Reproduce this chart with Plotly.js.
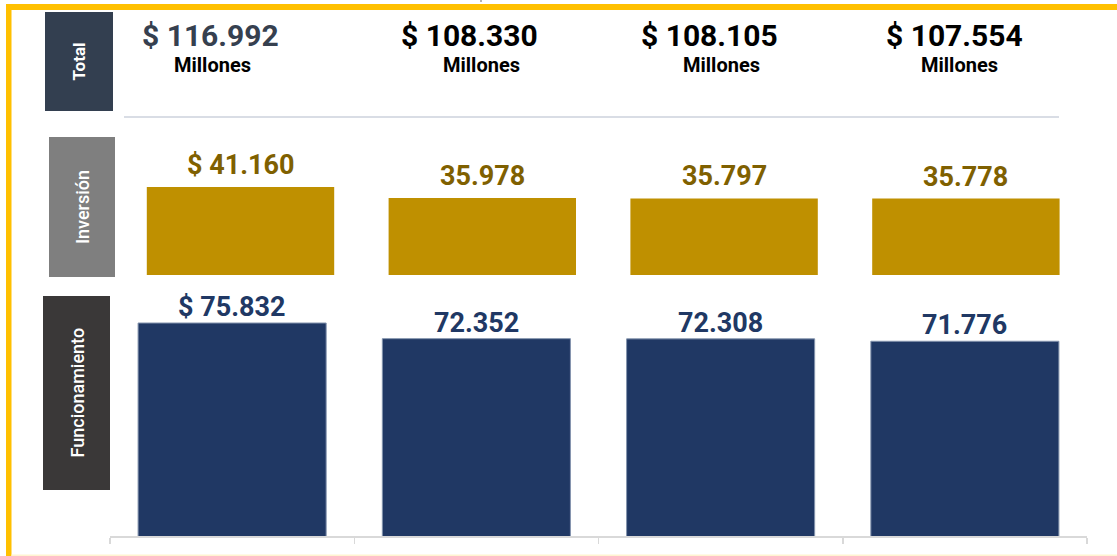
<!DOCTYPE html>
<html>
<head>
<meta charset="utf-8">
<script src="https://cdn.plot.ly/plotly-3.0.1.min.js"></script>
<style>html,body{margin:0;padding:0;background:#fff;}#chart{width:1117px;height:556px;}</style>
</head>
<body>
<div id="chart"></div>
<script>
// ---- data ----
var categories = ['Periodo 1', 'Periodo 2', 'Periodo 3', 'Periodo 4'];
var funcionamiento = [75832, 72352, 72308, 71776];
var inversion = [41160, 35978, 35797, 35778];
var totales = [116992, 108330, 108105, 107554];
var unidad = 'Millones';
var rowLabels = ['Total', 'Inversión', 'Funcionamiento'];

// ---- helpers / layout constants ----
var W = 1117, H = 556;
function px(x) { return x / W; }
function py(y) { return 1 - y / H; }
function fmt(v) { return String(v).replace(/\B(?=(\d{3})+(?!\d))/g, '.'); }
function labels(arr) { return arr.map(function (v, i) { return (i === 0 ? '$ ' : '') + fmt(v); }); }

var FONT = 'Roboto, "Open Sans", sans-serif';
var navy = '#203864', gold = '#bf9000', goldText = '#7f6000';
var totalDx = [-22, -7, -11, -10];
var millDx = [-20, 5, 1, -5];
var navyDy = [-2, -2, -2, -2];

var traces = [
  {
    type: 'bar', x: categories, y: funcionamiento, xaxis: 'x', yaxis: 'y',
    width: 0.77,
    marker: { color: navy, line: { color: '#8393ad', width: 1 } },
    hoverinfo: 'skip'
  },
  {
    type: 'bar', x: categories, y: inversion, xaxis: 'x2', yaxis: 'y2',
    width: 0.775,
    marker: { color: gold, line: { width: 0 } },
    hoverinfo: 'skip'
  }
];

var annotations = [];
var navyLbl = labels(funcionamiento);
var goldLbl = labels(inversion);
categories.forEach(function (c, i) {
  annotations.push({
    xref: 'x', yref: 'y', x: c, y: funcionamiento[i], yanchor: 'bottom', yshift: navyDy[i],
    text: navyLbl[i], showarrow: false,
    font: { family: FONT, size: 27, color: navy, weight: 700 }
  });
  annotations.push({
    xref: 'x2', yref: 'y2', x: c, y: inversion[i], yanchor: 'bottom', yshift: 4,
    text: goldLbl[i], showarrow: false,
    font: { family: FONT, size: 27, color: goldText, weight: 700 }
  });
  annotations.push({
    xref: 'x', yref: 'paper', x: c, y: py(35), yanchor: 'middle', xshift: totalDx[i],
    text: '$ ' + fmt(totales[i]), showarrow: false,
    font: { family: FONT, size: 30, color: i === 0 ? '#36404f' : '#000000', weight: 700 }
  });
  annotations.push({
    xref: 'x', yref: 'paper', x: c, y: py(64.5), yanchor: 'middle', xshift: millDx[i],
    text: unidad, showarrow: false,
    font: { family: FONT, size: 20, color: '#000000', weight: 700 }
  });
});

// row label boxes
var boxes = [
  { x0: 45, x1: 113, y0: 12, y1: 111, color: '#333f50', weight: 700, size: 17 },
  { x0: 49, x1: 115, y0: 137, y1: 277, color: '#7f7f7f', weight: 500, size: 18 },
  { x0: 43, x1: 110, y0: 296, y1: 490, color: '#3a3838', weight: 500, size: 18 }
];
var shapes = [];
boxes.forEach(function (b, i) {
  shapes.push({ type: 'rect', xref: 'paper', yref: 'paper', x0: px(b.x0), x1: px(b.x1), y0: py(b.y1), y1: py(b.y0),
    fillcolor: b.color, line: { width: 0 }, layer: 'below' });
  annotations.push({ xref: 'paper', yref: 'paper', x: px((b.x0 + b.x1) / 2), y: py((b.y0 + b.y1) / 2),
    xanchor: 'center', yanchor: 'middle', textangle: -90, text: rowLabels[i], showarrow: false,
    font: { family: FONT, size: b.size, color: '#ffffff', weight: b.weight } });
});
// frame
shapes.push({ type: 'rect', xref: 'paper', yref: 'paper', x0: px(6), x1: 1, y0: py(10), y1: py(4), fillcolor: '#ffc000', line: { width: 0 } });
shapes.push({ type: 'rect', xref: 'paper', yref: 'paper', x0: px(6), x1: px(11.5), y0: 0, y1: py(4), fillcolor: '#ffc000', line: { width: 0 } });
shapes.push({ type: 'rect', xref: 'paper', yref: 'paper', x0: px(11.5), x1: 1, y0: 0, y1: py(554.5), fillcolor: '#fff4d0', line: { width: 0 } });
shapes.push({ type: 'line', xref: 'paper', yref: 'paper', x0: px(481), x1: px(481), y0: py(0), y1: py(2), line: { color: '#9a9a9a', width: 1.5 } });
// separator under totals
shapes.push({ type: 'line', xref: 'paper', yref: 'paper', x0: px(124), x1: px(1059), y0: py(117), y1: py(117), line: { color: '#cdd2dc', width: 1.5 } });

var layout = {
  width: W, height: H,
  margin: { l: 0, r: 0, t: 0, b: 0, pad: 0 },
  paper_bgcolor: '#ffffff', plot_bgcolor: 'rgba(0,0,0,0)',
  showlegend: false,
  barmode: 'overlay',
  xaxis: {
    domain: [px(110), px(1087)], type: 'category', range: [-0.5, 3.5],
    showline: true, linecolor: '#d9d9d9', linewidth: 1.5,
    ticks: 'outside', tickson: 'boundaries', ticklen: 6, tickcolor: '#d9d9d9', tickwidth: 1.5,
    showticklabels: false, showgrid: false, zeroline: false, fixedrange: true
  },
  yaxis: {
    domain: [py(536), py(296)], range: [28500, 81833],
    showgrid: false, zeroline: false, showticklabels: false, showline: false, fixedrange: true
  },
  xaxis2: {
    domain: [px(119.6), px(1086.8)], type: 'category', range: [-0.5, 3.5], anchor: 'y2',
    showline: false, showticklabels: false, showgrid: false, zeroline: false, ticks: '', fixedrange: true
  },
  yaxis2: {
    domain: [py(275), py(137)], range: [0, 64550], anchor: 'x2',
    showgrid: false, zeroline: false, showticklabels: false, showline: false, fixedrange: true
  },
  annotations: annotations,
  shapes: shapes
};

Plotly.newPlot('chart', traces, layout, { displayModeBar: false, staticPlot: true });
</script>
</body>
</html>
